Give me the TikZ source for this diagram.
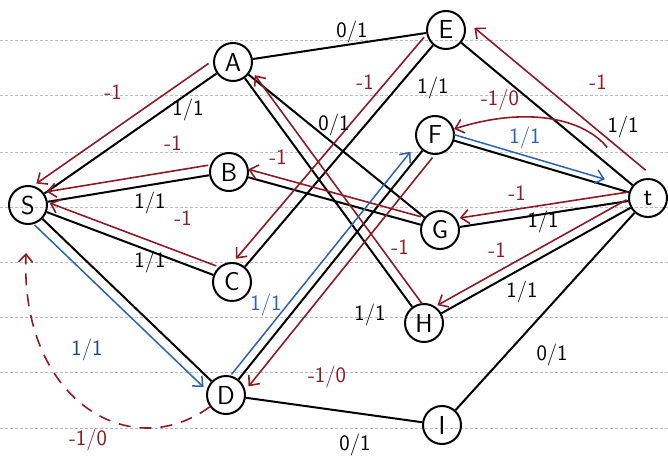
\documentclass[tikz,border=0pt]{standalone}
\usetikzlibrary{arrows.meta}
\definecolor{penred}{HTML}{8E1B24}
\definecolor{penblue}{HTML}{2A62B5}
\definecolor{ruled}{HTML}{B8BCC4}

\begin{document}
\begin{tikzpicture}[
  x=1pt, y=-1pt,
  vtx/.style={draw, circle, line width=2pt, minimum size=38pt, inner sep=0pt,
              font=\fontsize{26}{28}\sffamily},
  flow/.style={line width=2pt},
  rev/.style={draw=penred, line width=1.6pt, -{Straight Barb[length=8pt,width=14pt]}},
  aug/.style={draw=penblue, line width=1.5pt, -{Straight Barb[length=8pt,width=14pt]}},
  lbl/.style={font=\fontsize{22}{24}\sffamily, inner sep=1pt},
  rlbl/.style={lbl, text=penred},
  blbl/.style={lbl, text=penblue},
  nudge/.style={transform canvas={shift={#1}}}
]
  \useasboundingbox (0,0) rectangle (668,470);
  % ruled paper
  \foreach \y in {40,95,152,207,262,317,372,428}
    \draw[ruled, densely dashed, line width=0.8pt] (0,\y) -- (668,\y);

  % vertices
  \node[vtx] (S) at (28,205)  {S};
  \node[vtx] (A) at (233,62)  {A};
  \node[vtx] (B) at (229,172) {B};
  \node[vtx] (C) at (232,282) {C};
  \node[vtx] (D) at (226,395) {D};
  \node[vtx] (E) at (446,30)  {E};
  \node[vtx] (F) at (435,135) {F};
  \node[vtx] (G) at (440,230) {G};
  \node[vtx] (H) at (424,323) {H};
  \node[vtx] (I) at (442,425) {I};
  \node[vtx] (t) at (648,198) {t};

  % forward edges
  \draw[flow] (S) -- (A);
  \draw[flow] (S) -- (B);
  \draw[flow] (S) -- (C);
  \draw[flow] (S) -- (D);
  \draw[flow] (A) -- (E);
  \draw[flow] (A) -- (G);
  \draw[flow] (A) -- (H);
  \draw[flow] (B) -- (G);
  \draw[flow] (C) -- (E);
  \draw[flow] (D) -- (F);
  \draw[flow] (D) -- (I);
  \draw[flow] (E) -- (t);
  \draw[flow] (F) -- (t);
  \draw[flow] (G) -- (t);
  \draw[flow] (H) -- (t);
  \draw[flow] (I) -- (t);

  % residual (backward) edges
  \draw[rev, nudge={(-8,-10)}] (A) -- (S);
  \draw[rev, nudge={(-1,-10)}] (B) -- (S);
  \draw[rev, nudge={(3,-9)}]   (C) -- (S);
  \draw[rev, nudge={(-9,-8)}]  (E) -- (C);
  \draw[rev, nudge={(0,-8)}]   (G) -- (B);
  \draw[rev, nudge={(10,-3)}]  (H) -- (A);
  \draw[rev, nudge={(10,7)}]   (F) -- (D);
  \draw[rev, nudge={(13,-15)}] (t) -- (E);
  \draw[rev, nudge={(0,-9)}]   (t) -- (G);
  \draw[rev, nudge={(-4,-8)}]  (t) -- (H);
  \draw[rev, shorten <=45pt] (t) .. controls (585,120) and (530,105) .. (F);
  \draw[rev, dash pattern=on 12pt off 9pt, shorten >=28pt]
    (D) .. controls (130,465) and (20,400) .. (S);

  % augmenting path
  \draw[aug, nudge={(-8,6)}] (S) -- (D);
  \draw[aug, nudge={(-7,-5)}, shorten >=8pt] (D) -- (F);
  \draw[aug, nudge={(0,-6)}, shorten >=25pt] (F) -- (t);

  % flow / capacity labels
  \node[lbl] (fSA) at (188,110) {1/1};
  \node[lbl] (fSB) at (150,203) {1/1};
  \node[lbl] (fSC) at (150,262) {1/1};
  \node[lbl, text=penblue!70!black] (fSD) at (87,350) {1/1};
  \node[lbl] (fAE) at (352,32)  {0/1};
  \node[lbl] (fAG) at (334,125) {0/1};
  \node[lbl] (fAH) at (370,315) {1/1};
  \node[lbl] (fCE) at (433,88)  {1/1};
  \node[blbl] (fDF) at (266,305) {1/1};
  \node[lbl] (fDI) at (355,445) {0/1};
  \node[lbl] (fEt) at (623,127) {1/1};
  \node[blbl] (fFt) at (525,138) {1/1};
  \node[lbl] (fGt) at (543,222) {1/1};
  \node[lbl] (fHt) at (522,292) {1/1};
  \node[lbl] (fIt) at (552,355) {0/1};

  % residual labels
  \node[rlbl] (rAS) at (113,92)  {-1};
  \node[rlbl] (rBS) at (173,143) {-1};
  \node[rlbl] (rCS) at (183,218) {-1};
  \node[rlbl] (rEC) at (365,82)  {-1};
  \node[rlbl] (rGB) at (278,157) {-1};
  \node[rlbl] (rHA) at (400,247) {-1};
  \node[rlbl] (rFD) at (327,377) {-1/0};
  \node[rlbl] (rtE) at (598,82)  {-1};
  \node[rlbl] (rtG) at (517,193) {-1};
  \node[rlbl] (rtH) at (497,250) {-1};
  \node[rlbl] (rtF) at (500,100) {-1/0};
  \node[rlbl] (rDS) at (88,440)  {-1/0};
\end{tikzpicture}
\end{document}
